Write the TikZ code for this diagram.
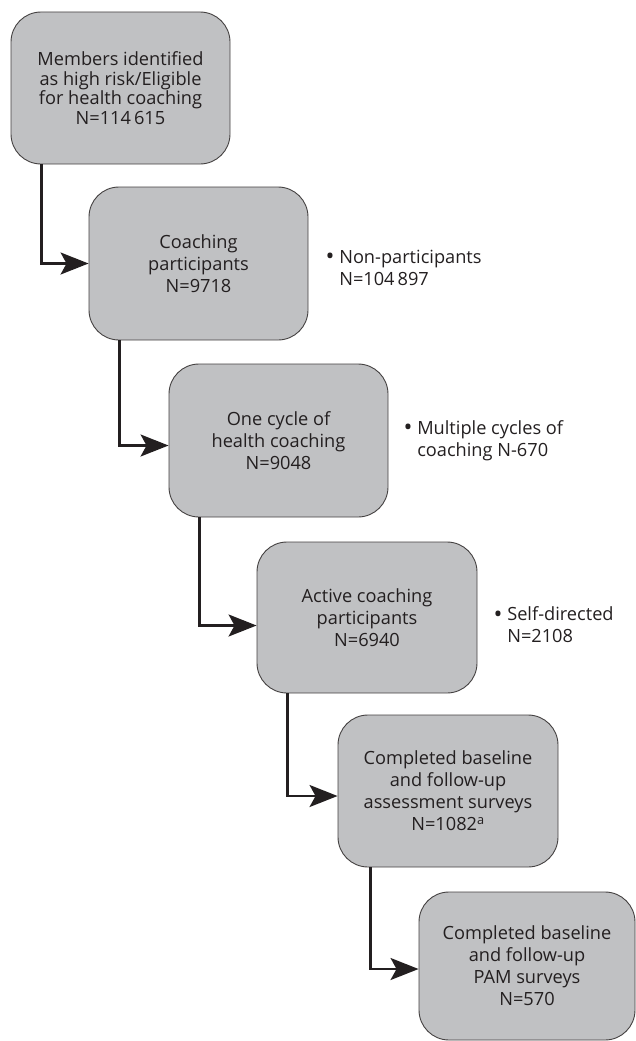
\documentclass[tikz,border=0pt]{standalone}
\usepackage{fontspec}
\setmainfont{Open Sans}
\usetikzlibrary{arrows.meta,positioning}
\definecolor{boxgray}{RGB}{192,193,195}
\definecolor{ink}{RGB}{35,31,32}
\newcommand{\dotitem}{\raisebox{-1.6pt}{\scalebox{1.3}{\textbullet}}\ }

\begin{document}
\begin{tikzpicture}[x=1pt, y=1pt, text=ink,
            stage/.style={draw=ink!85, line width=0.9pt, fill=boxgray, rectangle,
                rounded corners=30pt, minimum width=219pt, minimum height=152pt,
                align=center, font=\fontsize{18.2}{22}\selectfont},
            note/.style={anchor=west, inner sep=0pt, align=left,
                font=\fontsize{18.2}{22}\selectfont},
            arr/.style={draw=ink, line width=2.2pt,
                -{Stealth[length=28pt, width=22pt, inset=6pt]}}]
        \useasboundingbox (0,0) rectangle (636,-1041);

        \node[stage, font=\fontsize{18.2}{19.5}\selectfont] (members) at (120.5,-88)
            {Members identified\\as high risk/Eligible\\for health coaching\\N=114\,615};
        \node[stage, minimum height=153pt] (coached) at (198.5,-263.5)
            {Coaching\\participants\\N=9718};
        \node[stage, minimum height=153pt] (onecycle) at (278.5,-440.5)
            {One cycle of\\health coaching\\N=9048};
        \node[stage, minimum width=220pt, minimum height=151pt] (active) at (367,-617.5)
            {Active coaching\\participants\\N=6940};
        \node[stage, minimum width=220pt] (assess) at (448,-791)
            {Completed baseline\\and follow-up\\assessment surveys\\N=1082\textsuperscript{a}};
        \node[stage, minimum width=216pt, minimum height=148pt] (pam) at (527,-966)
            {Completed baseline\\and follow-up\\PAM surveys\\N=570};

        % excluded at each step
        \node[note, right=17pt of coached, yshift=-5pt] (nonpart)
            {\dotitem Non-participants\\\phantom{\dotitem}N=104\,897};
        \node[note, right=15pt of onecycle] (multi)
            {\dotitem Multiple cycles of\\\phantom{\dotitem}coaching N-670};
        \node[note, right=16pt of active, yshift=-8pt] (selfdir)
            {\dotitem Self-directed\\\phantom{\dotitem}N=2108};

        \draw[arr] ([xshift=31pt]members.south west) |- (coached.west);
        \draw[arr] ([xshift=31pt]coached.south west) |- ([yshift=-5pt]onecycle.west);
        \draw[arr] ([xshift=31pt]onecycle.south west) |- ([yshift=-8pt]active.west);
        \draw[arr] ([xshift=31pt]active.south west) |- ([yshift=-5pt]assess.west);
        \draw[arr] ([xshift=33pt]assess.south west) |- ([yshift=-3pt]pam.west);
\end{tikzpicture}
\end{document}
